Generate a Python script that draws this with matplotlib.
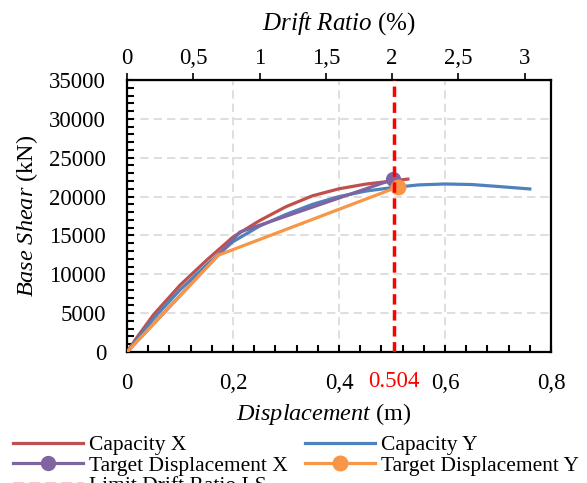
import matplotlib
matplotlib.use('Agg')
import matplotlib.pyplot as plt
from matplotlib.ticker import FuncFormatter, MultipleLocator, FixedLocator

plt.rcParams['font.family'] = ['Liberation Serif', 'DejaVu Serif']
plt.rcParams['mathtext.fontset'] = 'custom'
plt.rcParams['mathtext.rm'] = 'Liberation Serif'
plt.rcParams['mathtext.it'] = 'Liberation Serif:italic'

# capacity curves (displacement m, base shear kN)
cap_x_d = [0, 0.02, 0.05, 0.10, 0.15, 0.20, 0.25, 0.30, 0.35, 0.40, 0.45, 0.50, 0.53]
cap_x_v = [0, 2000, 4800, 8600, 11800, 14800, 16900, 18700, 20100, 21000, 21600, 22000, 22250]
cap_y_d = [0, 0.05, 0.10, 0.15, 0.175, 0.20, 0.25, 0.30, 0.35, 0.40, 0.45, 0.50, 0.55, 0.60, 0.65, 0.70, 0.76]
cap_y_v = [0, 4300, 8000, 11200, 12700, 14200, 16200, 17700, 19000, 20000, 20700, 21150, 21500, 21620, 21550, 21300, 20980]

# bilinear target displacement curves
tgt_x_d = [0, 0.213, 0.502]
tgt_x_v = [0, 15440, 22200]
tgt_y_d = [0, 0.172, 0.511]
tgt_y_v = [0, 12450, 21240]

limit_ls = 0.504
height = 25.0  # m, drift (%) = disp / height * 100
drift_ticks = [0, 0.5, 1, 1.5, 2, 2.5, 3]


def comma(v, pos=None):
    return ('%g' % round(v, 2)).replace('.', ',')


fig = plt.figure(figsize=(5.87, 4.83), dpi=100)
ax = fig.add_axes([0.2164, 0.2712, 0.7223, 0.5632])

l_cx, = ax.plot(cap_x_d, cap_x_v, color='#C0504D', lw=2.3, label='Capacity X', zorder=3)
l_cy, = ax.plot(cap_y_d, cap_y_v, color='#4F81BD', lw=2.3, label='Capacity Y', zorder=3)
l_tx, = ax.plot(tgt_x_d, tgt_x_v, color='#8064A2', lw=2.3, marker='o', markersize=10,
                markevery=[2], label='Target Displacement X', zorder=4)
l_ty, = ax.plot(tgt_y_d, tgt_y_v, color='#F79646', lw=2.3, marker='o', markersize=10.5,
                markevery=[2], label='Target Displacement Y', zorder=4)
l_ls = ax.axvline(limit_ls, color='#FF0000', lw=2.5, dashes=(3, 1.6),
                  label='Limit Drift Ratio LS', zorder=5)

ax.set_xlim(0, 0.8)
ax.set_ylim(0, 35000)
ax.xaxis.set_major_locator(MultipleLocator(0.2))
ax.xaxis.set_minor_locator(MultipleLocator(0.04))
ax.yaxis.set_major_locator(MultipleLocator(5000))
ax.yaxis.set_minor_locator(MultipleLocator(1000))
ax.xaxis.set_major_formatter(FuncFormatter(comma))
ax.tick_params(which='both', direction='in', length=5, width=1.5, labelsize=16.5,
               top=False, right=False)
ax.tick_params(axis='x', pad=15)
ax.tick_params(axis='y', pad=15)
ax.grid(True, which='major', color='#d9d9d9', lw=1.2, dashes=(5, 3))
for s in ax.spines.values():
    s.set_linewidth(1.6)

ax.text(limit_ls, -0.07, '0.504', color='#FF0000', fontsize=16.5,
        ha='center', va='top', transform=ax.get_xaxis_transform())

ax.set_xlabel(r'$\it{Displacement}$ (m)', fontsize=17.5, labelpad=5, x=0.465)
ax.set_ylabel(r'$\it{Base\ Shear}$ (kN)', fontsize=17.5, labelpad=7)

sec = ax.secondary_xaxis('top', functions=(lambda d: d / height * 100, lambda r: r * height / 100))
sec.xaxis.set_major_locator(FixedLocator(drift_ticks))
sec.xaxis.set_major_formatter(FuncFormatter(comma))
sec.tick_params(direction='out', length=5, width=1.2, labelsize=16.5, pad=3)
sec.set_xlabel(r'$\it{Drift\ Ratio}$ (%)', fontsize=18, labelpad=13)

fig.legend([l_cx, l_tx, l_ls, l_cy, l_ty],
           [h.get_label() for h in (l_cx, l_tx, l_ls, l_cy, l_ty)],
           loc='upper left', bbox_to_anchor=(13 / 587, 1 - 435 / 483), ncol=2,
           frameon=False, fontsize=15.5, handlelength=3.25, handletextpad=0.28,
           columnspacing=0.79, labelspacing=0.02, borderpad=0, borderaxespad=0)

fig.savefig('out.png', dpi=100)
